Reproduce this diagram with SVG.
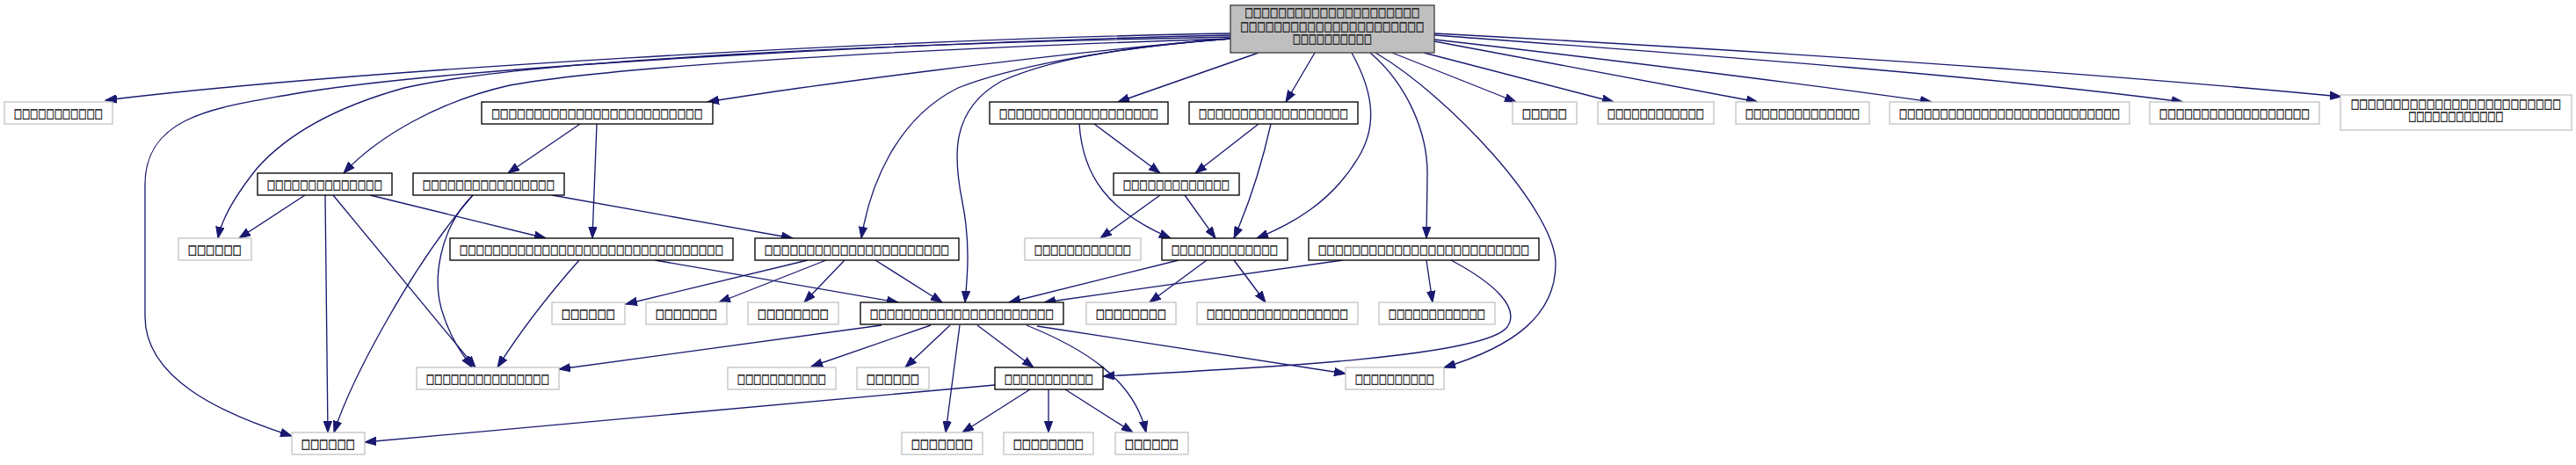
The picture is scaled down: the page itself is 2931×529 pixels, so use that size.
<svg xmlns="http://www.w3.org/2000/svg" width="2931" height="529" viewBox="0 0 2931 529">
<style>
rect{stroke-width:1.33}
.g rect{fill:#fff;stroke:#c4c4c4}
.b rect{fill:#fff;stroke:#000}
.root rect{fill:#bfbfbf;stroke:#404040}
text{font-family:"DejaVu Sans",sans-serif;font-size:10.5px;fill:#111;stroke:#222;stroke-width:0.35;text-anchor:middle}
.e path{fill:none;stroke:#191970;stroke-width:1.33;marker-end:url(#arr)}
</style>
<defs>
<marker id="arr" markerUnits="userSpaceOnUse" markerWidth="14" markerHeight="10" refX="13" refY="5" orient="auto" viewBox="0 0 14 10"><path d="M0,0.3 L13,5 L0,9.7 z" fill="#191970" stroke="#191970" stroke-width="1"/></marker>
</defs>
<rect width="2931" height="529" fill="#fff"/>
<g id="edges" class="e">
<path d="M1400,38 C1000,45 400,80 120,114"/>
<path d="M1400,40 C1050,48 520,75 333,107 C250,122 165,130 165,210 L165,360 C165,430 250,470 332,496"/>
<path d="M1400,42 C1000,50 600,68 460,100 C370,125 320,160 292,192 C268,222 252,250 248,271"/>
<path d="M1400,44 C1050,55 700,75 580,97 C500,115 430,155 391,197"/>
<path d="M1400,44 C1200,60 900,100 805,116"/>
<path d="M1400,44 C1250,55 1140,80 1090,100 C1020,135 990,210 980,271"/>
<path d="M1400,44 C1260,55 1190,70 1140,92 C1080,125 1085,180 1095,230 C1105,280 1100,320 1098,344"/>
<path d="M1432,60 L1272,116"/>
<path d="M1496,60 L1463,116"/>
<path d="M1538,60 C1560,100 1570,140 1545,180 C1515,230 1470,255 1430,271"/>
<path d="M1559,60 C1600,95 1625,150 1624,200 L1623,271"/>
<path d="M1565,60 C1650,110 1770,240 1770,300 C1770,360 1720,395 1643,418"/>
<path d="M1584,60 L1725,116"/>
<path d="M1620,60 L1836,116"/>
<path d="M1632,47 L2000,116"/>
<path d="M1632,45 C1800,64 2050,95 2198,116"/>
<path d="M1632,40 C1900,60 2250,85 2484,116"/>
<path d="M1632,38 C1950,55 2350,80 2664,110"/>
<path d="M660,141 L578,197"/>
<path d="M679,141 L674,271"/>
<path d="M1245,141 L1320,197"/>
<path d="M1228,141 C1232,200 1260,240 1332,271"/>
<path d="M1432,141 L1360,197"/>
<path d="M1446,141 C1435,190 1420,235 1404,271"/>
<path d="M347,222 L272,271"/>
<path d="M370,222 L373,492"/>
<path d="M379,222 L541,418"/>
<path d="M421,222 L621,271"/>
<path d="M538,222 C500,260 490,320 505,360 C515,390 530,408 537,418"/>
<path d="M538,222 C470,300 400,430 380,492"/>
<path d="M628,222 L902,271"/>
<path d="M659,296 C620,340 590,380 566,418"/>
<path d="M745,296 L1022,344"/>
<path d="M919,296 L712,346"/>
<path d="M940,296 L818,344"/>
<path d="M961,296 L915,344"/>
<path d="M996,296 L1072,344"/>
<path d="M1320,222 L1252,271"/>
<path d="M1348,222 L1383,271"/>
<path d="M1341,296 L1148,344"/>
<path d="M1373,296 L1308,344"/>
<path d="M1404,296 L1440,344"/>
<path d="M1528,296 L1188,344"/>
<path d="M1623,296 L1630,344"/>
<path d="M1651,296 C1700,322 1730,350 1715,372 C1690,405 1450,418 1255,428"/>
<path d="M1003,370 L636,420"/>
<path d="M1059,370 L923,417"/>
<path d="M1081,370 L1030,418"/>
<path d="M1092,370 L1076,492"/>
<path d="M1112,370 L1176,418"/>
<path d="M1168,370 C1230,395 1290,430 1304,492"/>
<path d="M1180,371 L1531,425"/>
<path d="M1132,438 L415,503"/>
<path d="M1172,443 L1095,492"/>
<path d="M1193,443 L1193,492"/>
<path d="M1212,443 L1289,492"/>
</g>
<g id="root" class="root"><rect x="1400" y="6" width="232" height="54"/>
<text transform="translate(1516,19.4) scale(1,1.4)" textLength="199" lengthAdjust="spacingAndGlyphs">□□□□□□□□□□□□□□□□□□□□□</text>
<text transform="translate(1516,34.6) scale(1,1.4)" textLength="209" lengthAdjust="spacingAndGlyphs">□□□□□□□□□□□□□□□□□□□□□□</text>
<text transform="translate(1516,49.1) scale(1,1.4)" textLength="90" lengthAdjust="spacingAndGlyphs">□□□□□□□□□□</text></g>
<g id="r1a" class="g"><rect x="5" y="116" width="123" height="25"/><text transform="translate(66.5,133.6) scale(1,1.4)" textLength="101" lengthAdjust="spacingAndGlyphs">□□□□□□□□□□□</text></g>
<g id="r1b" class="b"><rect x="548" y="116" width="263" height="25"/><text transform="translate(679.5,133.6) scale(1,1.4)" textLength="240" lengthAdjust="spacingAndGlyphs">□□□□□□□□□□□□□□□□□□□□□□□□□</text></g>
<g id="r1c" class="b"><rect x="1126" y="116" width="203" height="25"/><text transform="translate(1227.5,133.6) scale(1,1.4)" textLength="181" lengthAdjust="spacingAndGlyphs">□□□□□□□□□□□□□□□□□□□</text></g>
<g id="r1d" class="b"><rect x="1353" y="116" width="192" height="25"/><text transform="translate(1449,133.6) scale(1,1.4)" textLength="170" lengthAdjust="spacingAndGlyphs">□□□□□□□□□□□□□□□□□□</text></g>
<g id="r1e" class="g"><rect x="1721" y="116" width="73" height="25"/><text transform="translate(1757.5,133.6) scale(1,1.4)" textLength="51" lengthAdjust="spacingAndGlyphs">□□□□□</text></g>
<g id="r1f" class="g"><rect x="1818" y="116" width="132" height="25"/><text transform="translate(1884,133.6) scale(1,1.4)" textLength="110" lengthAdjust="spacingAndGlyphs">□□□□□□□□□□□□</text></g>
<g id="r1g" class="g"><rect x="1975" y="116" width="152" height="25"/><text transform="translate(2051,133.6) scale(1,1.4)" textLength="130" lengthAdjust="spacingAndGlyphs">□□□□□□□□□□□□□□</text></g>
<g id="r1h" class="g"><rect x="2150" y="116" width="273" height="25"/><text transform="translate(2286.5,133.6) scale(1,1.4)" textLength="251" lengthAdjust="spacingAndGlyphs">□□□□□□□□□□□□□□□□□□□□□□□□□□□</text></g>
<g id="r1i" class="g"><rect x="2446" y="116" width="193" height="25"/><text transform="translate(2542.5,133.6) scale(1,1.4)" textLength="171" lengthAdjust="spacingAndGlyphs">□□□□□□□□□□□□□□□□□□</text></g>
<g id="r1j" class="g"><rect x="2663" y="108" width="263" height="40"/>
<text transform="translate(2794.5,122.6) scale(1,1.4)" textLength="239" lengthAdjust="spacingAndGlyphs">□□□□□□□□□□□□□□□□□□□□□□□□□</text>
<text transform="translate(2794.5,136.6) scale(1,1.4)" textLength="108" lengthAdjust="spacingAndGlyphs">□□□□□□□□□□□□</text></g>
<g id="r2a" class="b"><rect x="293" y="197" width="153" height="25"/><text transform="translate(369.5,214.6) scale(1,1.4)" textLength="131" lengthAdjust="spacingAndGlyphs">□□□□□□□□□□□□□□</text></g>
<g id="r2b" class="b"><rect x="470" y="197" width="172" height="25"/><text transform="translate(556,214.6) scale(1,1.4)" textLength="150" lengthAdjust="spacingAndGlyphs">□□□□□□□□□□□□□□□□</text></g>
<g id="r2c" class="b"><rect x="1267" y="197" width="143" height="25"/><text transform="translate(1338.5,214.6) scale(1,1.4)" textLength="121" lengthAdjust="spacingAndGlyphs">□□□□□□□□□□□□□</text></g>
<g id="r3a" class="g"><rect x="203" y="271" width="83" height="25"/><text transform="translate(244.5,288.6) scale(1,1.4)" textLength="61" lengthAdjust="spacingAndGlyphs">□□□□□□</text></g>
<g id="r3b" class="b"><rect x="512" y="271" width="322" height="25"/><text transform="translate(673,288.6) scale(1,1.4)" textLength="300" lengthAdjust="spacingAndGlyphs">□□□□□□□□□□□□□□□□□□□□□□□□□□□□□□□□</text></g>
<g id="r3c" class="b"><rect x="859" y="271" width="232" height="25"/><text transform="translate(975,288.6) scale(1,1.4)" textLength="210" lengthAdjust="spacingAndGlyphs">□□□□□□□□□□□□□□□□□□□□□□</text></g>
<g id="r3d" class="g"><rect x="1166" y="271" width="132" height="25"/><text transform="translate(1232,288.6) scale(1,1.4)" textLength="110" lengthAdjust="spacingAndGlyphs">□□□□□□□□□□□□</text></g>
<g id="r3e" class="b"><rect x="1322" y="271" width="143" height="25"/><text transform="translate(1393.5,288.6) scale(1,1.4)" textLength="121" lengthAdjust="spacingAndGlyphs">□□□□□□□□□□□□□</text></g>
<g id="r3f" class="b"><rect x="1489" y="271" width="262" height="25"/><text transform="translate(1620,288.6) scale(1,1.4)" textLength="240" lengthAdjust="spacingAndGlyphs">□□□□□□□□□□□□□□□□□□□□□□□□□</text></g>
<g id="r4a" class="g"><rect x="628" y="344" width="83" height="25"/><text transform="translate(669.5,361.6) scale(1,1.4)" textLength="61" lengthAdjust="spacingAndGlyphs">□□□□□□</text></g>
<g id="r4b" class="g"><rect x="735" y="344" width="92" height="25"/><text transform="translate(781,361.6) scale(1,1.4)" textLength="70" lengthAdjust="spacingAndGlyphs">□□□□□□□</text></g>
<g id="r4c" class="g"><rect x="851" y="344" width="103" height="25"/><text transform="translate(902.5,361.6) scale(1,1.4)" textLength="81" lengthAdjust="spacingAndGlyphs">□□□□□□□□</text></g>
<g id="r4d" class="b"><rect x="979" y="344" width="231" height="25"/><text transform="translate(1094.5,361.6) scale(1,1.4)" textLength="209" lengthAdjust="spacingAndGlyphs">□□□□□□□□□□□□□□□□□□□□□□</text></g>
<g id="r4e" class="g"><rect x="1236" y="344" width="102" height="25"/><text transform="translate(1287,361.6) scale(1,1.4)" textLength="80" lengthAdjust="spacingAndGlyphs">□□□□□□□□</text></g>
<g id="r4f" class="g"><rect x="1362" y="344" width="183" height="25"/><text transform="translate(1453.5,361.6) scale(1,1.4)" textLength="161" lengthAdjust="spacingAndGlyphs">□□□□□□□□□□□□□□□□□</text></g>
<g id="r4g" class="g"><rect x="1569" y="344" width="132" height="25"/><text transform="translate(1635,361.6) scale(1,1.4)" textLength="110" lengthAdjust="spacingAndGlyphs">□□□□□□□□□□□□</text></g>
<g id="r5a" class="g"><rect x="474" y="418" width="162" height="25"/><text transform="translate(555,435.6) scale(1,1.4)" textLength="140" lengthAdjust="spacingAndGlyphs">□□□□□□□□□□□□□□□</text></g>
<g id="r5b" class="g"><rect x="828" y="418" width="123" height="25"/><text transform="translate(889.5,435.6) scale(1,1.4)" textLength="101" lengthAdjust="spacingAndGlyphs">□□□□□□□□□□□</text></g>
<g id="r5c" class="g"><rect x="975" y="418" width="82" height="25"/><text transform="translate(1016,435.6) scale(1,1.4)" textLength="60" lengthAdjust="spacingAndGlyphs">□□□□□□</text></g>
<g id="r5d" class="b"><rect x="1132" y="418" width="123" height="25"/><text transform="translate(1193.5,435.6) scale(1,1.4)" textLength="101" lengthAdjust="spacingAndGlyphs">□□□□□□□□□□□</text></g>
<g id="r5e" class="g"><rect x="1531" y="418" width="112" height="25"/><text transform="translate(1587,435.6) scale(1,1.4)" textLength="90" lengthAdjust="spacingAndGlyphs">□□□□□□□□□□</text></g>
<g id="r6a" class="g"><rect x="332" y="492" width="83" height="25"/><text transform="translate(373.5,509.6) scale(1,1.4)" textLength="61" lengthAdjust="spacingAndGlyphs">□□□□□□</text></g>
<g id="r6b" class="g"><rect x="1026" y="492" width="92" height="25"/><text transform="translate(1072,509.6) scale(1,1.4)" textLength="70" lengthAdjust="spacingAndGlyphs">□□□□□□□</text></g>
<g id="r6c" class="g"><rect x="1142" y="492" width="102" height="25"/><text transform="translate(1193,509.6) scale(1,1.4)" textLength="80" lengthAdjust="spacingAndGlyphs">□□□□□□□□</text></g>
<g id="r6d" class="g"><rect x="1269" y="492" width="83" height="25"/><text transform="translate(1310.5,509.6) scale(1,1.4)" textLength="61" lengthAdjust="spacingAndGlyphs">□□□□□□</text></g>
</svg>
